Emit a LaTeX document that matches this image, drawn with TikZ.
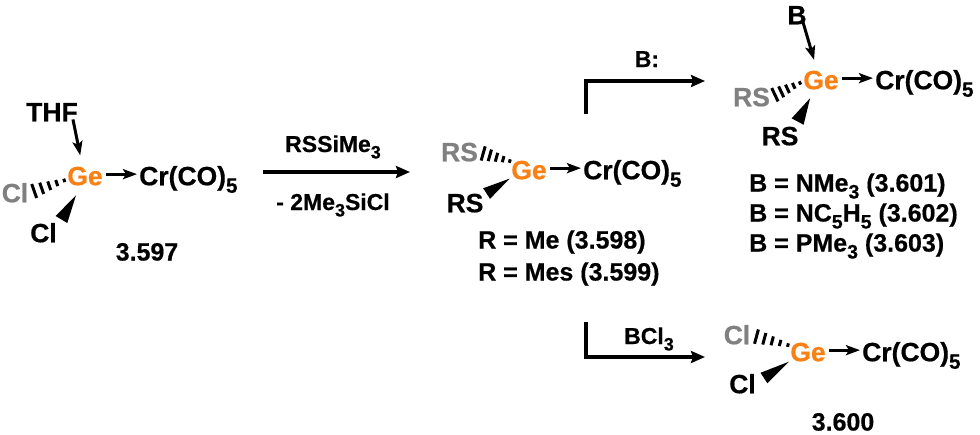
\documentclass[tikz,border=0pt]{standalone}
\usepackage{fontspec}
\setmainfont[BoldFeatures={FakeBold=0.5}]{Liberation Sans}
\usetikzlibrary{calc,arrows.meta}
\definecolor{georange}{RGB}{250,128,20}
\definecolor{hashgray}{RGB}{128,128,128}
\newcommand{\lowered}[1]{\raisebox{-0.28em}{\scalebox{0.78}{#1}}}
\newcommand{\hashbond}[2]{%
  \foreach \t/\w in {0/1.8,0.21/3.2,0.42/4.6,0.63/6,0.84/7.4}
    \draw[line width=3pt] ($(#1)!\t!(#2)!\w pt!90:(#2)$) -- ($(#1)!\t!(#2)!\w pt!-90:(#2)$);}
\newcommand{\wedgebond}[3]{%
  \fill (#1) -- ($(#2)!#3 pt!90:(#1)$) -- ($(#2)!#3 pt!-90:(#1)$) -- cycle;}
\tikzset{
  atom/.style={font=\bfseries\fontsize{26.5}{30}\selectfont, inner sep=0pt, text height=18.5pt, text depth=0pt},
  gelabel/.style={atom, text=georange, shape=circle, minimum size=42pt},
  faded/.style={atom, text=hashgray},
  info/.style={font=\bfseries\fontsize{25}{28}\selectfont, inner sep=0pt, text height=17pt, text depth=0pt},
  reagent/.style={font=\bfseries\fontsize{23}{26}\selectfont, inner sep=0pt, text height=16pt, text depth=0pt},
  dative/.style={line width=3pt, -{Stealth[length=14pt,width=10pt,inset=3pt]}},
  rxnarrow/.style={line width=3.2pt, -{Stealth[length=14pt,width=12pt,inset=2pt]}}
}
\begin{document}
\begin{tikzpicture}[x=1pt,y=-1pt]
  \useasboundingbox (0,0) rectangle (980,434);
  % Starting material
  \node[gelabel] (ge1) at (85,176) {Ge};
  \node[atom] (thf1) at (52,112) {THF};
  \node[atom, anchor=west] (cr1) at (139,176) {Cr(CO)\lowered{5}};
  \node[faded] (clg1) at (15,193) {Cl};
  \node[atom] (cl1) at (43.5,233) {Cl};
  \node[info] (num597) at (147,252) {3.597};
  \draw[dative] ([xshift=-5pt,yshift=2pt]thf1.south east) -- (ge1.103);
  \draw[dative] (ge1.5) -- ($(ge1.5 -| cr1.west)+(-2,0)$);
  \hashbond{ge1.192}{clg1.east}
  \wedgebond{ge1.245}{$(cl1.north east)+(4.5,-4)$}{6.8}
  % Main reaction arrow
  \coordinate (main1) at (263,172);
  \coordinate (main2) at (410,172);
  \draw[rxnarrow] (main1) -- (main2);
  \node[reagent] (rssi) at (333,144) {RSSiMe\lowered{3}};
  \node[reagent] (mesicl) at (333,202) {- 2Me\lowered{3}SiCl};
  % Middle product
  \node[gelabel] (ge2) at (529,170) {Ge};
  \node[atom, anchor=west] (cr2) at (583,170) {Cr(CO)\lowered{5}};
  \node[faded] (rsg2) at (459.5,152) {RS};
  \node[atom] (rs2) at (465,203) {RS};
  \node[info, anchor=west] (num598) at (478,240) {R = Me (3.598)};
  \node[info, anchor=west] (num599) at (478,272) {R = Mes (3.599)};
  \draw[dative] (ge2.5) -- ($(ge2.5 -| cr2.west)+(-2,0)$);
  \hashbond{ge2.155}{rsg2.east}
  \wedgebond{ge2.204}{$(rs2.north east)+(3,0)$}{6.3}
  % Upper branch
  \coordinate (up1) at (586,114);
  \coordinate (up2) at (705,81);
  \draw[rxnarrow] (up1) |- (up2);
  \node[reagent] (baselbl) at (647,59) {B:};
  % Lewis base adducts
  \node[gelabel] (ge3) at (821,80) {Ge};
  \node[atom] (b3) at (797,15) {B};
  \node[atom, anchor=west] (cr3) at (875,80) {Cr(CO)\lowered{5}};
  \node[faded] (rsg3) at (751.5,97) {RS};
  \node[atom] (rs3) at (780,136) {RS};
  \node[info, anchor=west] (num601) at (749,183) {B = NMe\lowered{3} (3.601)};
  \node[info, anchor=west] (num602) at (749,213) {B = NC\lowered{5}H\lowered{5} (3.602)};
  \node[info, anchor=west] (num603) at (749,243) {B = PMe\lowered{3} (3.603)};
  \draw[dative] ([xshift=-4pt,yshift=3pt]b3.south east) -- (ge3.109);
  \draw[dative] (ge3.5) -- ($(ge3.5 -| cr3.west)+(-2,0)$);
  \hashbond{ge3.188}{rsg3.east}
  \wedgebond{ge3.239}{$(rs3.north east)+(-1,-5)$}{6.8}
  % Lower branch
  \coordinate (low1) at (586,322);
  \coordinate (low2) at (705,357);
  \draw[rxnarrow] (low1) |- (low2);
  \node[reagent] (bcl) at (649,336) {BCl\lowered{3}};
  % Chloride product
  \node[gelabel] (ge4) at (808,352) {Ge};
  \node[atom, anchor=west] (cr4) at (862,352) {Cr(CO)\lowered{5}};
  \node[faded] (clg4) at (737,335) {Cl};
  \node[atom] (cl4) at (742.5,384) {Cl};
  \node[info] (num600) at (843,422) {3.600};
  \draw[dative] (ge4.5) -- ($(ge4.5 -| cr4.west)+(-2,0)$);
  \hashbond{ge4.161}{clg4.east}
  \wedgebond{ge4.207}{$(cl4.north east)+(8,3.5)$}{6.3}
\end{tikzpicture}
\end{document}
